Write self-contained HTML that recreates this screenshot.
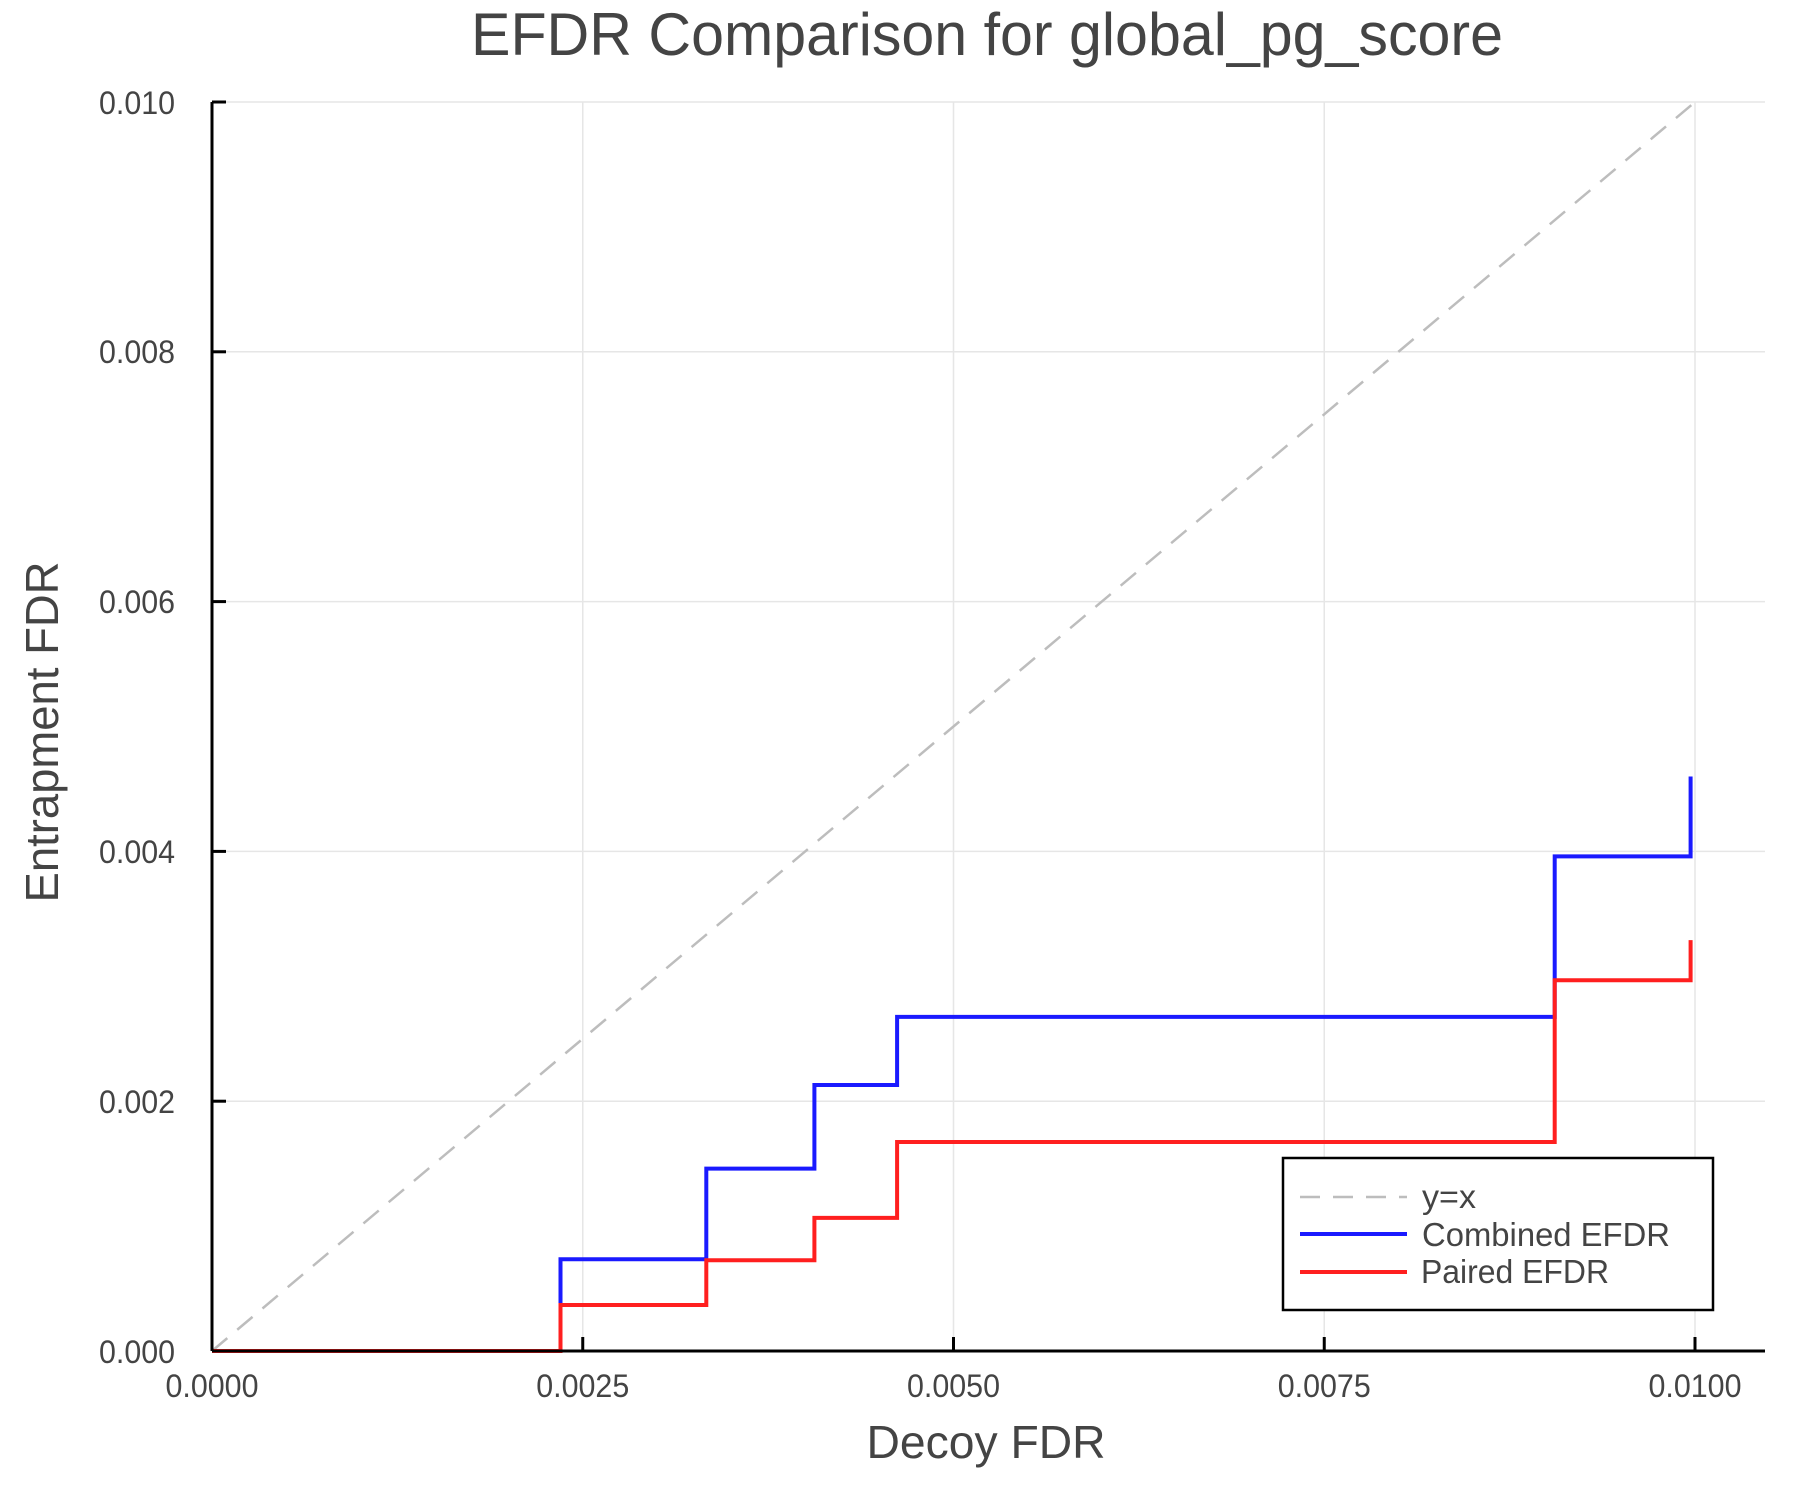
<!DOCTYPE html>
<html><head><style>html,body{margin:0;padding:0;background:#fff;}svg{display:block}</style></head>
<body>
<svg width="1800" height="1500" viewBox="0 0 1800 1500" xmlns="http://www.w3.org/2000/svg" font-family="Liberation Sans, sans-serif">
<rect width="1800" height="1500" fill="#fff"/>
<g stroke="#e6e6e6" stroke-width="1.5">
<line x1="582.75" y1="102" x2="582.75" y2="1351"/>
<line x1="953.5" y1="102" x2="953.5" y2="1351"/>
<line x1="1324.25" y1="102" x2="1324.25" y2="1351"/>
<line x1="1695" y1="102" x2="1695" y2="1351"/>
<line x1="212" y1="1101.2" x2="1765" y2="1101.2"/>
<line x1="212" y1="851.4" x2="1765" y2="851.4"/>
<line x1="212" y1="601.6" x2="1765" y2="601.6"/>
<line x1="212" y1="351.8" x2="1765" y2="351.8"/>
<line x1="212" y1="102" x2="1765" y2="102"/>
</g>
<line x1="212" y1="1351" x2="1695" y2="102" stroke="#bdbdbd" stroke-width="2.5" stroke-dasharray="20,13"/>
<polyline fill="none" stroke="#1a1aff" stroke-width="4" points="212,1351 560.5,1351 560.5,1259.2 706.3,1259.2 706.3,1168.6 814.4,1168.6 814.4,1085 897.1,1085 897.1,1016.9 1554.7,1016.9 1554.7,856.4 1690.6,856.4 1690.6,776.5"/>
<polyline fill="none" stroke="#ff1f1f" stroke-width="4" points="212,1351 560.5,1351 560.5,1305 706.3,1305 706.3,1260.3 814.4,1260.3 814.4,1217.9 897.1,1217.9 897.1,1142 1554.7,1142 1554.7,980.2 1690.6,980.2 1690.6,940.1"/>
<g stroke="#000" stroke-width="3">
<line x1="212" y1="1351" x2="1765" y2="1351"/>
<line x1="212" y1="102" x2="212" y2="1351"/>
<line x1="582.75" y1="1351" x2="582.75" y2="1337"/>
<line x1="953.5" y1="1351" x2="953.5" y2="1337"/>
<line x1="1324.25" y1="1351" x2="1324.25" y2="1337"/>
<line x1="1695" y1="1351" x2="1695" y2="1337"/>
<line x1="212" y1="1101.2" x2="226" y2="1101.2"/>
<line x1="212" y1="851.4" x2="226" y2="851.4"/>
<line x1="212" y1="601.6" x2="226" y2="601.6"/>
<line x1="212" y1="351.8" x2="226" y2="351.8"/>
<line x1="212" y1="102" x2="226" y2="102"/>
</g>
<g fill="#444" font-size="32">
<text x="212" y="1397" text-anchor="middle" textLength="93" lengthAdjust="spacingAndGlyphs">0.0000</text>
<text x="582.75" y="1397" text-anchor="middle" textLength="93" lengthAdjust="spacingAndGlyphs">0.0025</text>
<text x="953.5" y="1397" text-anchor="middle" textLength="93" lengthAdjust="spacingAndGlyphs">0.0050</text>
<text x="1324.25" y="1397" text-anchor="middle" textLength="93" lengthAdjust="spacingAndGlyphs">0.0075</text>
<text x="1695" y="1397" text-anchor="middle" textLength="93" lengthAdjust="spacingAndGlyphs">0.0100</text>
<text x="175" y="1363" text-anchor="end" textLength="76" lengthAdjust="spacingAndGlyphs">0.000</text>
<text x="175" y="1113" text-anchor="end" textLength="76" lengthAdjust="spacingAndGlyphs">0.002</text>
<text x="175" y="863" text-anchor="end" textLength="76" lengthAdjust="spacingAndGlyphs">0.004</text>
<text x="175" y="613" text-anchor="end" textLength="76" lengthAdjust="spacingAndGlyphs">0.006</text>
<text x="175" y="363" text-anchor="end" textLength="76" lengthAdjust="spacingAndGlyphs">0.008</text>
<text x="175" y="114" text-anchor="end" textLength="76" lengthAdjust="spacingAndGlyphs">0.010</text>
</g>
<text x="987" y="55" text-anchor="middle" font-size="60" fill="#444" textLength="1032" lengthAdjust="spacingAndGlyphs">EFDR Comparison for global_pg_score</text>
<text x="986" y="1458" text-anchor="middle" font-size="46" fill="#444" textLength="239" lengthAdjust="spacingAndGlyphs">Decoy FDR</text>
<text transform="translate(58,732) rotate(-90)" text-anchor="middle" font-size="46" fill="#444" textLength="341" lengthAdjust="spacingAndGlyphs">Entrapment FDR</text>
<rect x="1283" y="1158" width="430" height="152" fill="#fff" stroke="#000" stroke-width="2.5"/>
<line x1="1300" y1="1197" x2="1407" y2="1197" stroke="#bdbdbd" stroke-width="2.5" stroke-dasharray="20,13"/>
<line x1="1300" y1="1234" x2="1407" y2="1234" stroke="#1a1aff" stroke-width="4"/>
<line x1="1300" y1="1272" x2="1407" y2="1272" stroke="#ff1f1f" stroke-width="4"/>
<g fill="#444" font-size="33">
<text x="1422" y="1208" textLength="54" lengthAdjust="spacingAndGlyphs">y=x</text>
<text x="1422" y="1246" textLength="248" lengthAdjust="spacingAndGlyphs">Combined EFDR</text>
<text x="1421" y="1283" textLength="188" lengthAdjust="spacingAndGlyphs">Paired EFDR</text>
</g>
</svg>
</body></html>
